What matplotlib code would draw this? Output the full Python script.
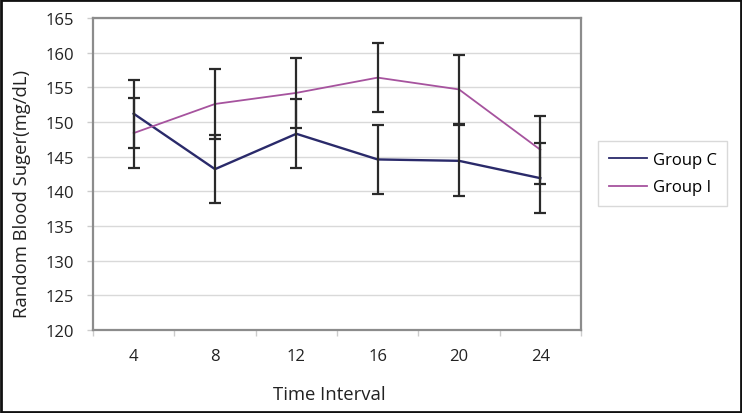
import matplotlib.pyplot as plt
from matplotlib.patches import Rectangle
from matplotlib.lines import Line2D

# data
time_labels = ['4', '8', '12', '16', '20', '24']
group_c = [151.2, 143.2, 148.3, 144.6, 144.4, 141.9]
group_i = [148.4, 152.6, 154.2, 156.4, 154.7, 146.0]
err_c = [4.9, 4.9, 5.0, 5.0, 5.1, 5.0]
err_i = [5.0, 5.0, 5.0, 5.0, 5.0, 4.9]

plt.rcParams['font.family'] = ['Open Sans', 'DejaVu Sans']

W, H = 742, 414
fig = plt.figure(figsize=(W / 100, H / 100), dpi=100)
ax = fig.add_axes([93 / W, 1 - 331 / H, 488 / W, 312 / H])

x = list(range(len(time_labels)))
col_c = '#2a2a6a'
col_i = '#a6539e'

ax.plot(x, group_c, color=col_c, lw=1.7, zorder=3)
ax.plot(x, group_i, color=col_i, lw=1.3, zorder=3)
ax.errorbar(x, group_c, yerr=err_c, fmt='none', ecolor='#2a2a2a',
            elinewidth=1.6, capsize=4.5, capthick=1.6, zorder=4)
ax.errorbar(x, group_i, yerr=err_i, fmt='none', ecolor='#2a2a2a',
            elinewidth=1.6, capsize=4.5, capthick=1.6, zorder=4)

ax.set_xlim(-0.5, len(x) - 0.5)
ax.set_ylim(120, 165)
ax.set_yticks(range(120, 166, 5))
ax.yaxis.grid(True, color='#d9d9d9', lw=1)
ax.set_axisbelow(True)

# category boundaries get the ticks, labels sit in the middle
ax.set_xticks([i - 0.5 for i in range(len(x) + 1)])
ax.set_xticklabels([])
ax.set_xticks(x, minor=True)
ax.set_xticklabels(time_labels, minor=True)
ax.tick_params(axis='x', which='major', length=4.3, color='#cccccc', width=1)
ax.tick_params(axis='x', which='minor', length=0, pad=13, labelsize=12, labelcolor='#222222')
ax.tick_params(axis='y', length=4.3, color='#cccccc', width=1, pad=9.4, labelsize=12, labelcolor='#222222')

for s in ax.spines.values():
    s.set_color('#8c8c8c')
    s.set_linewidth(1.6)

fig.text(329 / W, 1 - 395 / H, 'Time Interval', fontsize=13.3, color='#222222',
         ha='center', va='center')
fig.text(22 / W, 1 - 194 / H, 'Random Blood Suger(mg/dL)', fontsize=13.3, color='#222222',
         ha='center', va='center', rotation=90)

handles = [Line2D([], [], color=col_c, lw=1.3), Line2D([], [], color=col_i, lw=1.3)]
leg = fig.legend(handles, ['Group C', 'Group I'], loc='upper left', mode='expand',
                 bbox_to_anchor=(598 / W, 1 - 207 / H, 129 / W, 65 / H), borderaxespad=0,
                 fontsize=12, frameon=True, fancybox=False, edgecolor='#d0d0d0',
                 handlelength=2.3, handletextpad=0.35, borderpad=0.65, labelspacing=0.7)
leg.get_frame().set_linewidth(1)

fig.patches.append(Rectangle((0.001, 0.002), 0.997, 0.995, transform=fig.transFigure,
                             fill=False, edgecolor='#111111', lw=2))

fig.savefig('out.png', dpi=100)
